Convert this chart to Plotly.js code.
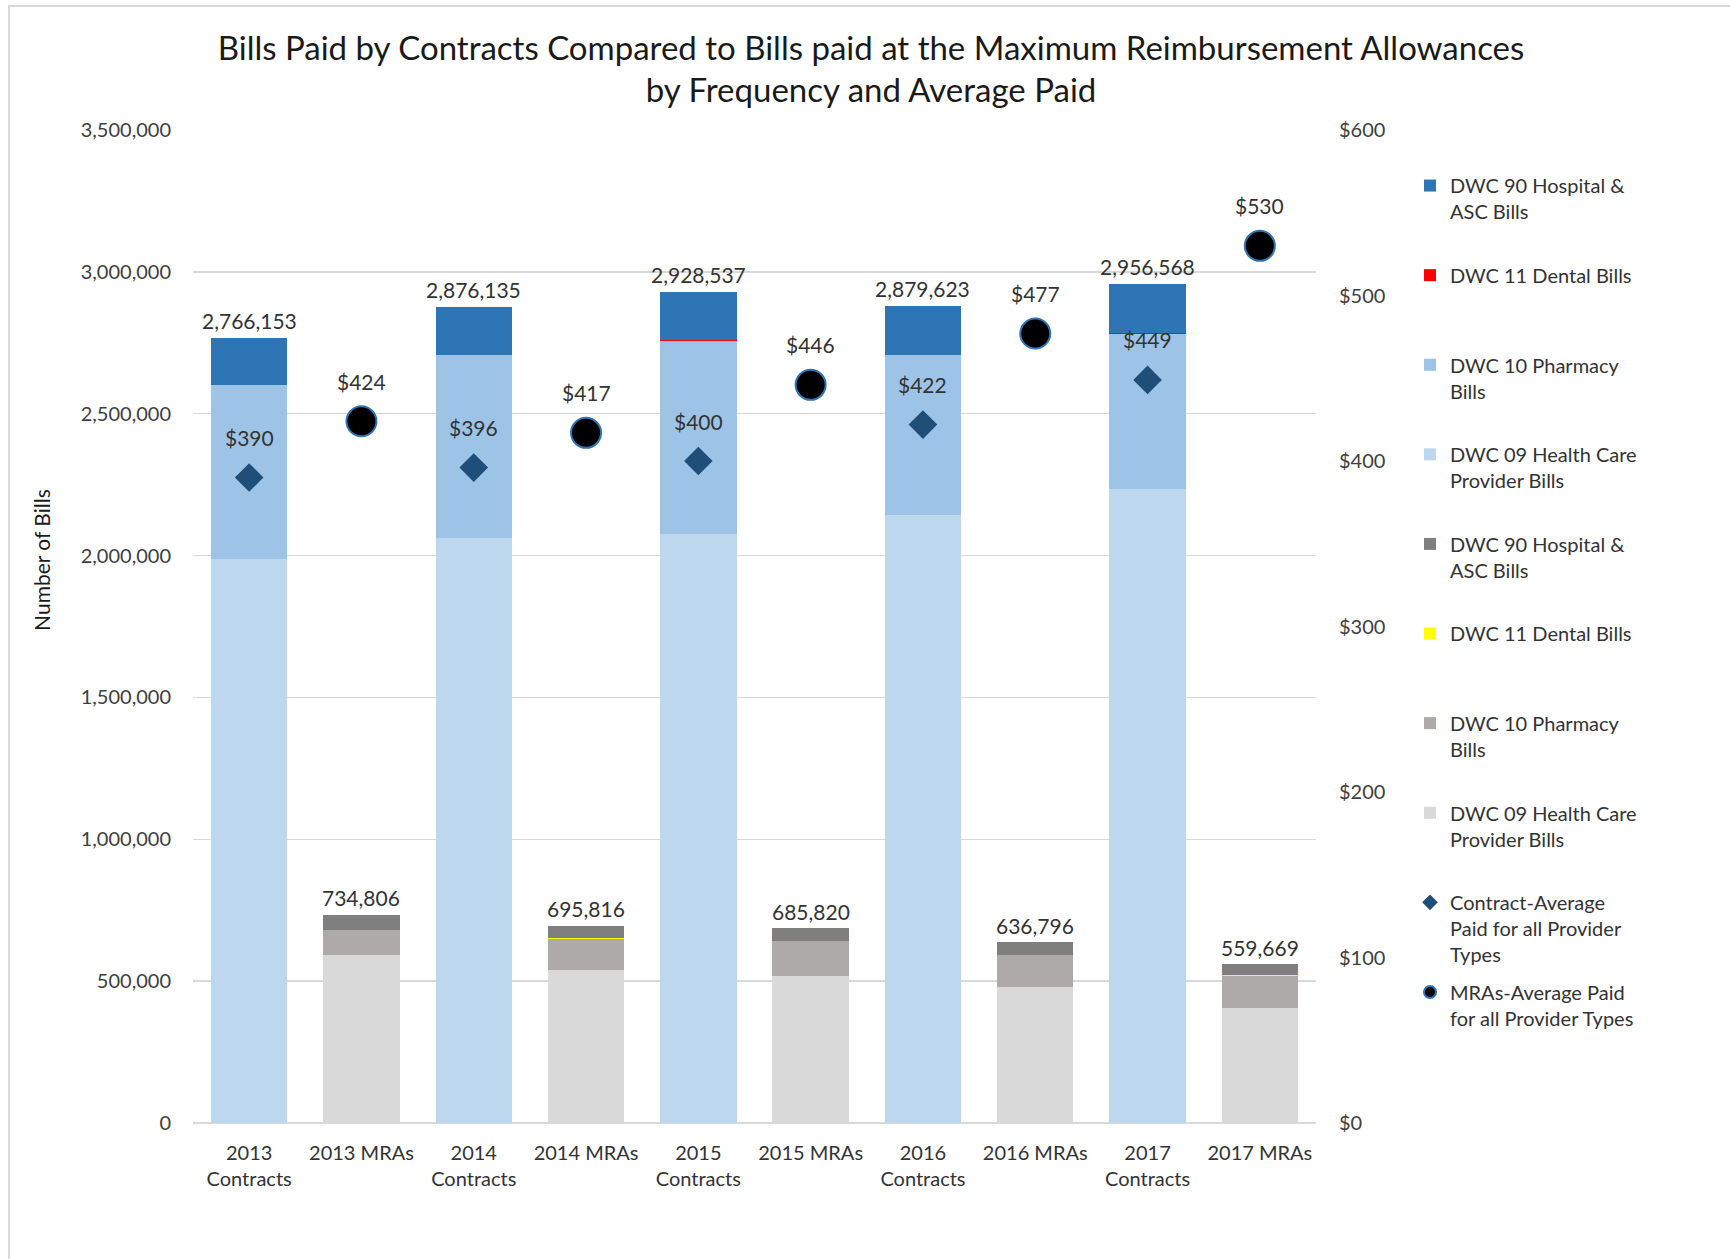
<!DOCTYPE html>
<html><head><meta charset="utf-8">
<script src="https://cdn.plot.ly/plotly-3.0.1.min.js"></script>
<style>html,body{margin:0;padding:0;background:#fff;} #chart{width:1730px;height:1259px;}</style>
</head><body><div id="chart"></div>
<script>
// ---- data ----
const years = ['2013', '2014', '2015', '2016', '2017'];
const contractLabels = ['2013<br>Contracts', '2014<br>Contracts', '2015<br>Contracts', '2016<br>Contracts', '2017<br>Contracts'];
const mraLabels = ['2013 MRAs', '2014 MRAs', '2015 MRAs', '2016 MRAs', '2017 MRAs'];

// Contracts (number of bills)
const hcpContracts      = [1987000, 2063000, 2076000, 2144000, 2235000];
const pharmacyContracts = [614000, 643500, 680500, 562000, 545000];
const dentalContracts   = [0, 0, 5000, 0, 5000];
const hospitalContracts = [165153, 169635, 167037, 173623, 171568];
const contractTotals    = [2766153, 2876135, 2928537, 2879623, 2956568];

// MRAs (number of bills)
const hcpMRAs      = [592600, 541000, 518700, 477800, 404000];
const pharmacyMRAs = [89400, 106000, 121300, 114800, 113000];
const dentalMRAs   = [0, 4000, 0, 0, 4000];
const hospitalMRAs = [52806, 44816, 45820, 44196, 38669];
const mraTotals    = [734806, 695816, 685820, 636796, 559669];

// Average paid ($)
const contractAvgPaid = [390, 396, 400, 422, 449];
const mraAvgPaid      = [424, 417, 446, 477, 530];

// ---- chart ----
const FONT = 'Lato, "Open Sans", sans-serif';
const categoryOrder = [];
years.forEach((y, i) => { categoryOrder.push(contractLabels[i]); categoryOrder.push(mraLabels[i]); });

const NB = '\u00a0';

function barTrace(x, y, name, color, rank) {
  return {
    type: 'bar', x: x, y: y, name: name, legendgroup: 'g' + rank, legendrank: rank,
    marker: {color: color, line: {width: 0}}, hoverinfo: 'x+y+name'
  };
}

const traces = [
  barTrace(contractLabels, hcpContracts, 'DWC 09 Health Care<br>Provider Bills<br>' + NB, '#bdd7ee', 4),
  barTrace(contractLabels, pharmacyContracts, 'DWC 10 Pharmacy<br>Bills<br>' + NB, '#9dc3e6', 3),
  barTrace(contractLabels, dentalContracts, 'DWC 11 Dental Bills<br>' + NB + '<br>' + NB, '#ff0000', 2),
  barTrace(contractLabels, hospitalContracts, 'DWC 90 Hospital &<br>ASC Bills<br>' + NB, '#2e75b6', 1),
  barTrace(mraLabels, hcpMRAs, 'DWC 09 Health Care<br>Provider Bills<br>' + NB, '#d9d9d9', 8),
  barTrace(mraLabels, pharmacyMRAs, 'DWC 10 Pharmacy<br>Bills<br>' + NB, '#aeaaaa', 7),
  barTrace(mraLabels, dentalMRAs, 'DWC 11 Dental Bills<br>' + NB + '<br>' + NB, '#ffff00', 6),
  barTrace(mraLabels, hospitalMRAs, 'DWC 90 Hospital &<br>ASC Bills<br>' + NB, '#7f7f7f', 5),
  {
    type: 'scatter', mode: 'markers', x: contractLabels, y: contractAvgPaid, yaxis: 'y2',
    name: 'Contract-Average<br>Paid for all Provider<br>Types', legendgroup: 'g9', legendrank: 9,
    marker: {symbol: 'diamond', size: 22, color: '#1f4e79'}
  },
  {
    type: 'scatter', mode: 'markers', x: mraLabels, y: mraAvgPaid, yaxis: 'y2',
    name: 'MRAs-Average Paid<br>for all Provider Types<br>' + NB, legendgroup: 'g10', legendrank: 10,
    marker: {symbol: 'circle', size: 30, color: '#000000', line: {color: '#2e75b6', width: 2}}
  }
];

const annotations = [];
const labFont = {family: FONT, size: 21, color: '#333333'};
contractLabels.forEach((c, i) => {
  annotations.push({x: c, y: contractTotals[i], xref: 'x', yref: 'y', text: contractTotals[i].toLocaleString('en-US'),
    showarrow: false, yanchor: 'middle', yshift: 18, font: labFont});
  annotations.push({x: c, y: contractAvgPaid[i], xref: 'x', yref: 'y2', text: '$' + contractAvgPaid[i],
    showarrow: false, yanchor: 'middle', yshift: 40, font: labFont});
});
mraLabels.forEach((c, i) => {
  annotations.push({x: c, y: mraTotals[i], xref: 'x', yref: 'y', text: mraTotals[i].toLocaleString('en-US'),
    showarrow: false, yanchor: 'middle', yshift: 17, font: labFont});
  annotations.push({x: c, y: mraAvgPaid[i], xref: 'x', yref: 'y2', text: '$' + mraAvgPaid[i],
    showarrow: false, yanchor: 'middle', yshift: 40, font: labFont});
});
annotations.push({
  xref: 'paper', yref: 'paper', x: -0.1345, y: 0.567, text: 'Number of Bills', textangle: -90,
  showarrow: false, xanchor: 'center', yanchor: 'middle', font: {family: FONT, size: 21, color: '#1a1a1a'}
});

const layout = {
  width: 1730, height: 1259, autosize: false,
  paper_bgcolor: '#ffffff', plot_bgcolor: '#ffffff',
  margin: {l: 193, r: 414, t: 130, b: 136, pad: 0},
  font: {family: FONT, size: 20, color: '#404040'},
  title: {
    text: 'Bills Paid by Contracts Compared to Bills paid at the Maximum Reimbursement Allowances<br>by Frequency and Average Paid',
    font: {family: FONT, size: 33, color: '#1a1a1a'},
    xref: 'container', x: 0.5035, xanchor: 'center',
    yref: 'container', y: 0.9527, yanchor: 'top'
  },
  barmode: 'stack', bargap: 0.32,
  showlegend: true,
  legend: {
    x: 1.0837, xanchor: 'left', y: 0.9637, yanchor: 'top',
    traceorder: 'grouped', tracegroupgap: 8.6, valign: 'top', itemsizing: 'constant',
    font: {family: FONT, size: 20, color: '#333333'}, bgcolor: 'rgba(0,0,0,0)', borderwidth: 0
  },
  xaxis: {
    type: 'category', categoryorder: 'array', categoryarray: categoryOrder, range: [-0.5, 9.5],
    showgrid: false, showline: false, zeroline: false,
    ticks: 'outside', ticklen: 12, tickcolor: 'rgba(0,0,0,0)',
    tickfont: {family: FONT, size: 20, color: '#333333'}
  },
  yaxis: {
    range: [0, 3500000], dtick: 500000, tick0: 0, tickformat: ',',
    showgrid: true, gridcolor: '#d9d9d9', gridwidth: 1.5,
    zeroline: true, zerolinecolor: '#d9d9d9', zerolinewidth: 2, showline: false,
    ticks: 'outside', ticklen: 17, tickcolor: 'rgba(0,0,0,0)',
    tickfont: {family: FONT, size: 20, color: '#404040'}
  },
  yaxis2: {
    overlaying: 'y', side: 'right', range: [0, 600], dtick: 100, tick0: 0, tickprefix: '$',
    showgrid: false, zeroline: false, showline: false,
    ticks: 'outside', ticklen: 18, tickcolor: 'rgba(0,0,0,0)',
    tickfont: {family: FONT, size: 20, color: '#404040'}
  },
  annotations: annotations,
  shapes: [{
    type: 'rect', xref: 'paper', yref: 'paper', x0: -0.1638, x1: 1.6, y0: -0.5, y1: 1.1249,
    line: {color: '#d9d9d9', width: 2}, fillcolor: 'rgba(0,0,0,0)', layer: 'below'
  }]
};

Plotly.newPlot('chart', traces, layout, {displayModeBar: false, staticPlot: true});
</script>
</body></html>
